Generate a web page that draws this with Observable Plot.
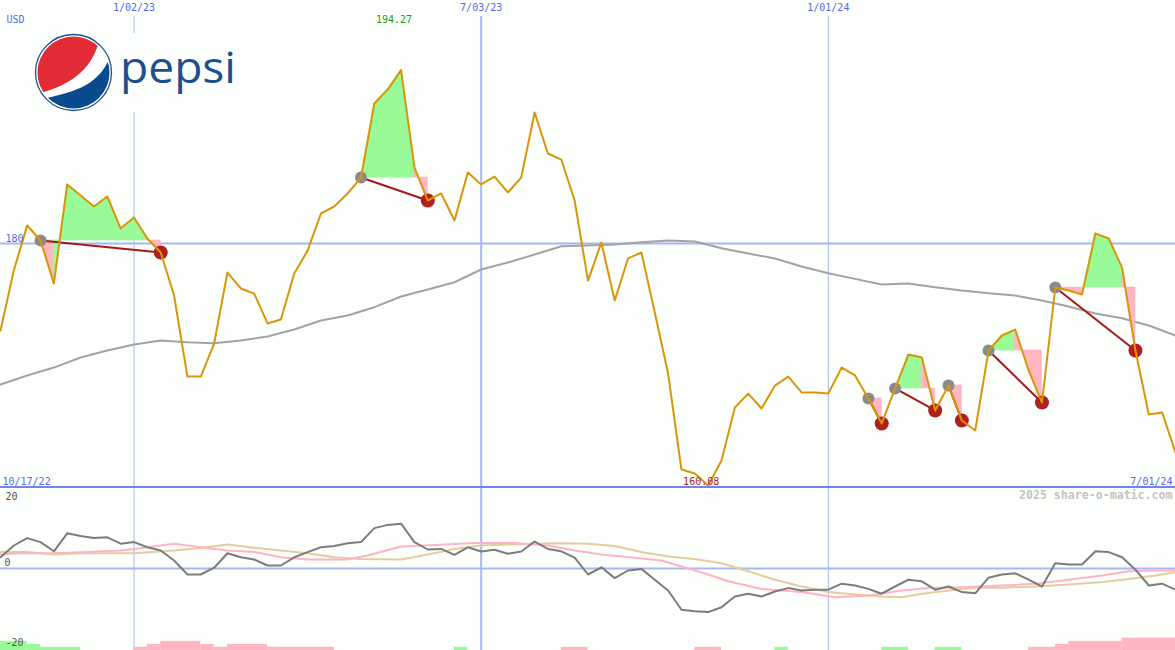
<!DOCTYPE html>
<html><head><meta charset="utf-8">
<script src="https://cdn.jsdelivr.net/npm/d3@7"></script>
<script src="https://cdn.jsdelivr.net/npm/@observablehq/plot@0.6"></script>
<style>
html,body{margin:0;padding:0;background:#fdfffd;}
#wrap{position:relative;width:1175px;height:650px;overflow:hidden;background:#fdfffd;}
#wrap svg{display:block;}
#sep{height:2px;background:#7383ec;}
</style></head><body><div id="wrap"></div>
<script>
// ---- data (weekly closes, starting week of 2022-10-24) ----
const price = [172.84,177.8,181.48,180.25,176.71,184.86,183.95,183.05,183.87,181.23,
182.14,180.41,179.26,175.72,169.05,169.05,171.77,177.61,176.30,175.88,
173.42,173.74,177.53,179.42,182.47,183.05,184.12,185.43,191.52,192.67,
194.27,186.26,183.54,184.12,181.89,185.84,184.86,185.51,184.20,185.43,
190.78,187.41,186.91,183.54,176.95,180.08,175.31,178.77,179.26,174.32,
169.30,161.40,161.07,160.08,162.14,166.50,167.65,166.42,168.31,169.05,
167.74,167.74,167.65,169.79,169.14,167.24,165.19,168.07,170.86,170.62,
166.26,168.31,165.43,164.61,171.19,172.43,172.92,169.55,166.91,176.38,
176.13,175.80,180.82,180.41,178.02,171.19,165.93,166.09,162.80];

const maWeeks = [0,2,4,6,8,10,12,14,16,18,20,22,24,26,28,30,32,34,36,38,40,42,44,46,48,50,52,54,56,58,60,62,64,66,68,70,72,74,76,78,80,82,84,86,88];
const maValues = [168.40,169.14,169.79,170.62,171.19,171.69,172.02,171.88,171.79,172.02,172.35,172.92,173.66,174.07,174.76,175.64,176.21,176.81,177.86,178.44,179.09,179.78,179.84,179.92,180.11,180.25,180.16,179.61,179.18,178.77,178.11,177.56,177.09,176.63,176.71,176.40,176.13,175.91,175.72,175.31,174.81,174.24,173.85,173.25,172.43];

const osc = [2.8,5.75,7.6,6.6,4.3,8.8,8.1,7.6,7.8,6.2,
6.6,5.3,4.5,2.0,-1.5,-1.5,0.2,3.8,2.8,2.25,
0.75,0.75,2.8,4.1,5.3,5.6,6.3,6.6,10.1,10.9,
11.2,6.6,4.75,4.9,3.4,5.3,4.25,4.7,3.7,4.25,
6.75,4.9,4.3,2.7,-1.5,0.3,-2.4,-0.5,-0.1,-2.8,
-5.5,-10.3,-10.7,-10.9,-9.7,-7.0,-6.3,-7.0,-5.75,-4.9,
-5.5,-5.3,-5.3,-3.8,-4.25,-5.1,-6.3,-4.5,-2.8,-3.2,
-5.3,-4.5,-5.9,-6.2,-2.3,-1.5,-1.2,-2.8,-4.5,1.3,
1.0,1.0,4.3,4.1,2.8,-0.3,-4.25,-3.8,-5.3];

const pinkWeeks = [0,1.5,4,6.5,9,10,11,13,15,17,19,21,23,25,26,27.5,30,32.5,35.5,38.5,41,43,45,47.5,49.5,51,53,54.5,57,60,62.5,65,67.5,69.5,72,75,77.5,80,82.5,84.5,86.5,88];
const pinkValues = [3.5,3.8,3.8,4.1,4.5,4.9,5.3,6.2,5.3,4.5,4.1,2.8,2.25,2.25,2.25,3.25,5.5,5.9,6.4,6.4,5.75,4.5,3.5,2.7,2.0,0.5,-1.5,-3.2,-5.1,-5.9,-7.2,-6.75,-5.5,-4.9,-4.7,-4.25,-3.8,-2.8,-1.75,-0.7,-0.5,-0.5];

const tanWeeks = [0,2,4,6,10,13,15,17,19,21,23,25,27,30,32,34,36,38,40,42,44,46,48,50,52,54,56,58,60,62,64,66,67.5,69,71,73,75,77.5,80,82.5,84.5,86.5,88];
const tanValues = [4.1,4.1,3.5,3.8,3.8,4.5,5.1,6.0,5.2,4.5,3.8,2.8,2.4,2.25,3.5,4.9,5.75,6.0,6.2,6.3,6.2,5.6,4.1,3.0,2.4,1.3,-0.7,-2.8,-4.5,-5.9,-6.5,-7.0,-7.2,-6.3,-5.5,-4.8,-4.8,-4.5,-4.0,-3.4,-2.6,-1.75,-0.9];

const entryWeeks = [3,27,65,67,71,74,79];
const exitWeeks  = [12,32,66,70,72,78,85];

const barStart  = [0,2,3,10,11,12,15,16,17,20,34,42,52,58,66,70,77,79,80,84];
const barEnd    = [2,3,6,11,12,15,16,17,20,25,35,44,54,59,68,72,79,80,84,88];
const barHeight = [2.3,1.5,0.8,0.8,1.5,2.3,1.5,0.8,1.5,0.8,0.8,0.8,0.8,0.8,0.8,0.8,0.8,1.5,2.3,3.1];
const barUp     = [true,true,true,false,false,false,false,false,false,false,true,false,false,true,true,true,false,false,false,false];

const gridDates  = ["2023-01-02","2023-07-03","2024-01-01"];
const gridLabels = ["1/02/23","7/03/23","1/01/24"];
const firstLabel = "10/17/22", lastLabel = "7/01/24";
const priceTick = 180, oscTicks = [20, 0, -20];
const oscFloor = -20.5;

// ---- helpers ----
const t0 = Date.UTC(2022, 9, 24);
const wk = w => new Date(t0 + w * 7 * 864e5);
const xDomain = [wk(0), wk(price.length - 1)];
const W = 1175;
const GREEN = "#98fb98", PINK = "#ffb6c1";
const BLUE_TXT = "#5767ee", GRID = "#a8b6f4";
const FONT = "DejaVu Sans Mono";

const rows = price.map((p, i) => ({date: wk(i), p}));
const maRows = maWeeks.map((w, i) => ({date: wk(w), v: maValues[i]}));
const trades = entryWeeks.map((e, k) => ({e, x: exitWeeks[k]}));
const fills = [];
trades.forEach((t, k) => {
  const level = price[t.e];
  for (let j = t.e + 1; j <= t.x; j++) {
    const color = price[j] >= level ? GREEN : PINK;
    const seg = k + "-" + j;
    fills.push({date: wk(j - 1), p: price[j - 1], level, seg, color});
    fills.push({date: wk(j), p: price[j], level, seg, color});
  }
});
const iMax = price.indexOf(d3.max(price));
const iMin = price.indexOf(d3.min(price));

const pricePlot = Plot.plot({
  width: W, height: 486,
  margin: 0,
  style: {background: "transparent", fontFamily: FONT},
  x: {type: "utc", domain: xDomain, range: [0, W], axis: null},
  y: {domain: [159.92, 200], range: [487, 0], axis: null},
  color: {type: "identity"},
  marks: [
    Plot.ruleX(gridDates, {x: d => new Date(d), stroke: GRID, strokeWidth: (d, i) => i === 1 ? 2 : 1, insetTop: 16}),
    Plot.ruleY([priceTick], {stroke: GRID, strokeWidth: 2}),
    Plot.line(maRows, {x: "date", y: "v", stroke: "#a3a3a3", strokeWidth: 2}),
    Plot.areaY(fills, {x: "date", y1: "level", y2: "p", z: "seg", fill: "color", stroke: "color", strokeWidth: 0.7}),
    Plot.link(trades, {x1: d => wk(d.e), y1: d => price[d.e], x2: d => wk(d.x), y2: d => price[d.x], stroke: "#a31818", strokeWidth: 2}),
    Plot.dot(trades, {x: d => wk(d.e), y: d => price[d.e], r: 6, fill: "#8a8a8a"}),
    Plot.dot(trades, {x: d => wk(d.x), y: d => price[d.x], r: 7, fill: "#b01e1e"}),
    Plot.line(rows, {x: "date", y: "p", stroke: "#d9960a", strokeWidth: 2}),
    Plot.text(gridDates, {x: d => new Date(d), text: (d, i) => gridLabels[i], frameAnchor: "top", dy: 3, fill: BLUE_TXT, fontSize: 10}),
    Plot.text(["USD"], {frameAnchor: "top-left", dx: 6, dy: 15, fill: BLUE_TXT, fontSize: 10}),
    Plot.text([iMax], {x: d => wk(d), text: d => price[d].toFixed(2), frameAnchor: "top", dx: -7, dy: 15, fill: "#1f9a1f", fontSize: 10}),
    Plot.text([iMin], {x: d => wk(d), text: d => price[d].toFixed(2), frameAnchor: "bottom", dx: -7, dy: -2, fill: "#a81e1e", fontSize: 10}),
    Plot.text([priceTick], {x: xDomain[0], y: d => d, text: d => String(d), textAnchor: "start", dx: 5, dy: -5, fill: BLUE_TXT, fontSize: 10}),
    Plot.text([firstLabel], {frameAnchor: "bottom-left", dx: 2, dy: -2, fill: BLUE_TXT, fontSize: 10}),
    Plot.text([lastLabel], {frameAnchor: "bottom-right", dx: -3, dy: -2, fill: BLUE_TXT, fontSize: 10})
  ]
});

const pinkRows = pinkWeeks.map((w, i) => ({date: wk(w), v: pinkValues[i]}));
const tanRows = tanWeeks.map((w, i) => ({date: wk(w), v: tanValues[i]}));
const oscRows = osc.map((v, i) => ({date: wk(i), v}));
const bars = barStart.map((s, i) => ({s, e: barEnd[i], h: barHeight[i], up: barUp[i]}));
const tickText = {x: xDomain[0], y: d => d, text: d => String(d), textAnchor: "start", fill: "#555", fontSize: 10};

const oscPlot = Plot.plot({
  width: W, height: 162,
  margin: 0,
  style: {background: "transparent", fontFamily: FONT},
  x: {type: "utc", domain: xDomain, range: [0, W], axis: null},
  y: {domain: [oscFloor, 20], range: [162, 0], axis: null},
  color: {type: "identity"},
  marks: [
    Plot.ruleX(gridDates, {x: d => new Date(d), stroke: GRID, strokeWidth: (d, i) => i === 1 ? 2 : 1}),
    Plot.ruleY([0], {stroke: GRID, strokeWidth: 2}),
    Plot.rectY(bars, {x1: d => wk(d.s), x2: d => wk(d.e), y1: oscFloor, y2: d => oscFloor + d.h, fill: d => d.up ? GREEN : PINK}),
    Plot.line(tanRows, {x: "date", y: "v", stroke: "#e3cd9d", strokeWidth: 2}),
    Plot.line(pinkRows, {x: "date", y: "v", stroke: "#ffb3c8", strokeWidth: 2}),
    Plot.line(oscRows, {x: "date", y: "v", stroke: "#7c7c7c", strokeWidth: 2}),
    Plot.text(oscTicks.filter(d => d > 0), {...tickText, dx: 5, dy: 8}),
    Plot.text(oscTicks.filter(d => d === 0), {...tickText, dx: 4, dy: -6}),
    Plot.text(oscTicks.filter(d => d < 0), {...tickText, dx: 5, dy: -6}),
    Plot.text(["2025 share-o-matic.com"], {frameAnchor: "top-right", dx: -3, dy: 2, fill: "#c4c4c4", fontSize: 11.6, fontWeight: "bold"})
  ]
});

const wrap = document.getElementById("wrap");
wrap.appendChild(pricePlot);
const sep = document.createElement("div"); sep.id = "sep"; wrap.appendChild(sep);
wrap.appendChild(oscPlot);

// Pepsi logo
const logo = document.createElement("div");
logo.style.cssText = "position:absolute;left:0;top:0;";
logo.innerHTML = `<svg width="245" height="115" xmlns="http://www.w3.org/2000/svg">
<rect x="30" y="33" width="212" height="79" fill="#fdfffd"/>
<defs><clipPath id="globe"><circle cx="73.5" cy="72.5" r="36"/></clipPath></defs>
<circle cx="73.5" cy="72.5" r="38" fill="#fff" stroke="#1f4f8f" stroke-width="1.3"/>
<g clip-path="url(#globe)">
<path d="M30 96 C60 88 92 78 101 34 L30 30 Z" fill="#e32b35"/>
<path d="M34 101 C70 93 100 88 111 54 L120 120 L30 120 Z" fill="#0b4a8d"/>
</g>
<text x="120" y="83" font-family="Open Sans" font-size="43" fill="#1d4f8c" textLength="116" lengthAdjust="spacingAndGlyphs">pepsi</text>
</svg>`;
wrap.appendChild(logo);
</script>
</body></html>
